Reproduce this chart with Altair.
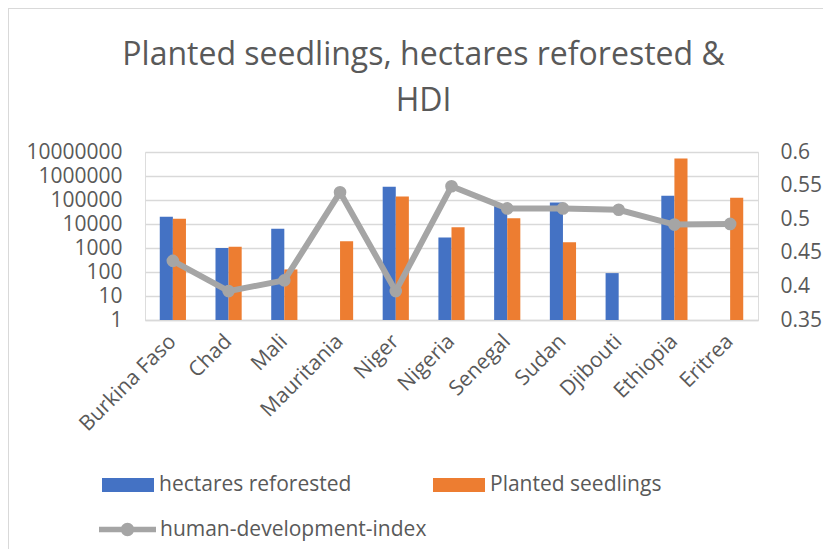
import altair as alt
import pandas as pd

countries = ["Burkina Faso", "Chad", "Mali", "Mauritania", "Niger", "Nigeria",
             "Senegal", "Sudan", "Djibouti", "Ethiopia", "Eritrea"]
hectares_reforested = [20000, 1000, 6300, None, 353000, 2750, 65000, 78000, 90, 149000, None]
planted_seedlings = [16500, 1130, 128, 1920, 139000, 7400, 17400, 1750, None, 5300000, 123000]
hdi = [0.438, 0.393, 0.409, 0.540, 0.393, 0.549, 0.516, 0.516, 0.514, 0.492, 0.493]

series_names = ["hectares reforested", "Planted seedlings"]
bar_colors = ["#4472c4", "#ed7d31"]
hdi_name = "human-development-index"
left_ticks = [1, 10, 100, 1000, 10000, 100000, 1000000, 10000000]
right_ticks = [0.35, 0.4, 0.45, 0.5, 0.55, 0.6]

rows = []
for c, h, s in zip(countries, hectares_reforested, planted_seedlings):
    if h is not None:
        rows.append({"country": c, "series": series_names[0], "value": h})
    if s is not None:
        rows.append({"country": c, "series": series_names[1], "value": s})
bar_df = pd.DataFrame(rows)
hdi_df = pd.DataFrame({"country": countries, "hdi": hdi, "name": hdi_name})

FONT = "Open Sans"
TXT = "#595959"
GRID = "#d9d9d9"

x_enc = alt.X("country:N", sort=countries,
              scale=alt.Scale(paddingInner=0.53, paddingOuter=0.265),
              axis=alt.Axis(title=None, labelAngle=-45, labelAlign="right",
                            labelBaseline="middle", labelPadding=18, ticks=False,
                            domainColor=GRID, domainWidth=1.5, grid=False,
                            labelFontSize=21, labelColor=TXT, labelFont=FONT))

border = alt.Chart(alt.Data(values=[{"k": 1}])).mark_rect(
    fillOpacity=0, stroke=GRID, strokeWidth=2
).encode(x=alt.value(-137), x2=alt.value(700), y=alt.value(-144), y2=alt.value(600))

bars = alt.Chart(bar_df).mark_bar().encode(
    x=x_enc,
    xOffset=alt.XOffset("series:N", sort=series_names,
                        scale=alt.Scale(domain=series_names, paddingInner=0, paddingOuter=0)),
    y=alt.Y("value:Q", stack=None,
            scale=alt.Scale(type="log", domain=[1, 10000000], nice=False),
            axis=alt.Axis(title=None, orient="left", values=left_ticks, format="d",
                          grid=True, gridColor=GRID, gridWidth=1.5, domain=False,
                          ticks=False, labelPadding=23, labelFontSize=21,
                          labelColor=TXT, labelFont=FONT)),
    y2=alt.datum(1),
    color=alt.Color("series:N", sort=series_names,
                    scale=alt.Scale(domain=series_names, range=bar_colors),
                    legend=alt.Legend(title=None, orient="none", legendX=-43, legendY=307,
                                      direction="horizontal", columns=2, columnPadding=81,
                                      symbolType="M-1,-0.27H1V0.27H-1Z", symbolSize=2704,
                                      symbolStrokeWidth=0, labelOffset=5, padding=0,
                                      labelLimit=500,
                                      labelFontSize=21, labelColor=TXT, labelFont=FONT)),
)

hdi_y = alt.Y("hdi:Q", scale=alt.Scale(domain=[0.35, 0.6], nice=False, zero=False),
              axis=alt.Axis(title=None, orient="right", values=right_ticks, format="~g",
                            grid=False, domain=False, ticks=False, labelPadding=22,
                            labelFontSize=21, labelColor=TXT, labelFont=FONT))

line = alt.Chart(hdi_df).mark_line(color="#a5a5a5", strokeWidth=6).encode(
    x=alt.X("country:N", sort=countries), y=hdi_y)

points = alt.Chart(hdi_df).mark_circle(size=160, opacity=1).encode(
    x=alt.X("country:N", sort=countries), y=hdi_y,
    color=alt.Color("name:N", scale=alt.Scale(domain=[hdi_name], range=["#a5a5a5"]),
                    legend=alt.Legend(title=None, orient="none", legendX=-46, legendY=349,
                                      symbolType="M-1,-0.1H1V0.1H-1Z M-0.235,0A0.235,0.235 0 1 1 0.235,0A0.235,0.235 0 1 1 -0.235,0Z",
                                      symbolSize=3249, symbolStrokeWidth=0, symbolOpacity=1,
                                      labelOffset=4, padding=0, labelLimit=500,
                                      labelFontSize=21, labelColor=TXT, labelFont=FONT)),
)

hdi_layer = alt.layer(line, points)

chart = alt.layer(border, bars, hdi_layer).resolve_scale(
    y="independent", color="independent"
).properties(
    width=613, height=168,
    padding={"left": 137, "top": 144, "right": 65, "bottom": 229},
    autosize=alt.AutoSizeParams(type="none"),
    title=alt.TitleParams(text=["Planted seedlings, hectares reforested &", "HDI"],
                          font=FONT, fontSize=32, fontWeight="normal", color=TXT,
                          anchor="middle", dx=-28, offset=-143, lineHeight=46,
                          baseline="bottom"),
).configure_view(stroke=None).configure(background="white")

chart.save("out.html", embed_options={"renderer": "svg", "actions": False})
